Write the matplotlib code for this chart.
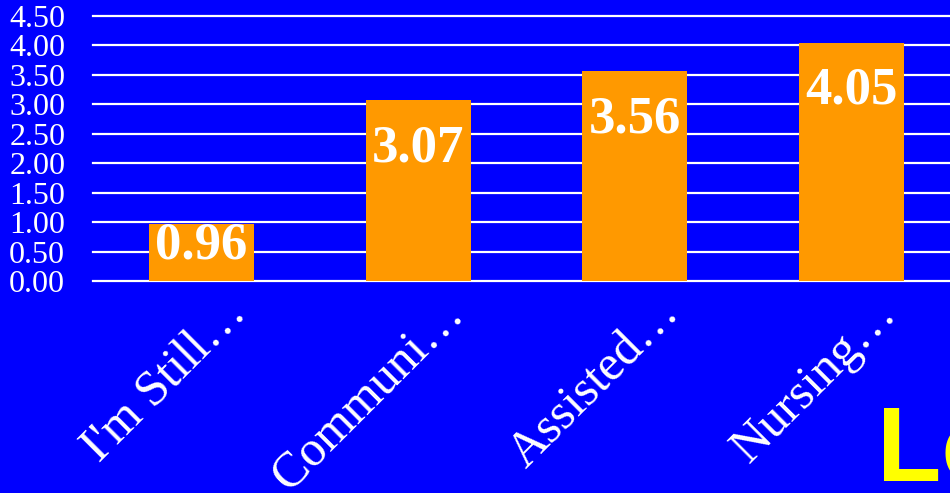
import matplotlib.pyplot as plt

# datos del grafico
categorias = ["I'm Still…", "Communi…", "Assisted…", "Nursing…"]
valores = [0.96, 3.07, 3.56, 4.05]
etiquetas = ["0.96", "3.07", "3.56", "4.05"]
y_ticks = [0.0, 0.5, 1.0, 1.5, 2.0, 2.5, 3.0, 3.5, 4.0, 4.5]

azul = "#0000FF"
naranja = "#FF9900"

fig = plt.figure(figsize=(9.5, 4.93), dpi=100, facecolor=azul)
ax = fig.add_axes([93 / 950, 212 / 493, 867 / 950, 265 / 493])
ax.set_facecolor(azul)

x = list(range(len(categorias)))
ax.bar(x, valores, width=0.485, color=naranja, zorder=3)
ax.set_xlim(-0.5, 3.5)
ax.set_ylim(0, 4.5)

for yv in y_ticks:
    ax.axhline(yv, color="white", lw=1.6, zorder=2, clip_on=False)

ax.set_yticks(y_ticks)
ax.set_yticklabels([f"{v:.2f}" for v in y_ticks], family="Liberation Serif",
                   fontsize=23, color="white")
ax.tick_params(axis="y", length=0, pad=20)
ax.set_xticks([])
for s in ax.spines.values():
    s.set_visible(False)

# valores dentro de las barras (si la barra es corta, se apoya en la base)
for i, v in enumerate(valores):
    base = max(v - 1.04, 0.39)
    ax.text(i, base, etiquetas[i], ha="center", va="baseline", color="white",
            family="Liberation Serif", fontweight="bold", fontsize=38, zorder=4)

# etiquetas del eje x rotadas
for i, c in enumerate(categorias):
    ax.text(i + 0.215, -0.58, c, ha="right", va="baseline", rotation=45,
            rotation_mode="anchor", color="white", family="Liberation Serif",
            fontsize=36, clip_on=False)

fig.text(877 / 950, 12 / 493, "Lo", color="yellow", family="Liberation Sans",
         fontweight="bold", fontsize=76, ha="left", va="baseline")

fig.savefig("out.png", dpi=100, facecolor=azul)
